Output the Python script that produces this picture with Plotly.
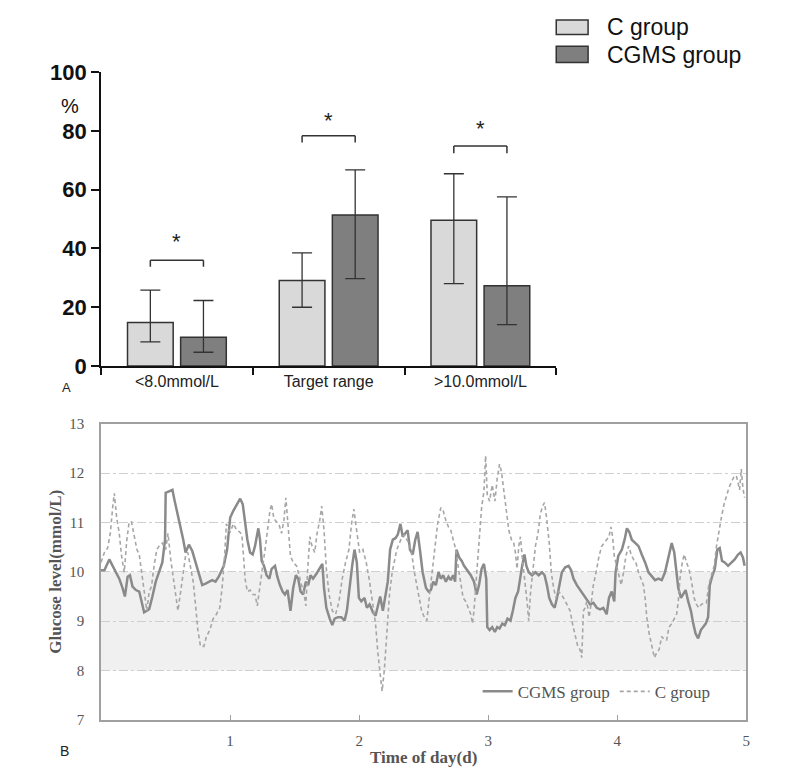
import plotly.graph_objects as go

# ---------------- Panel A data ----------------
categories = ["<8.0mmol/L", "Target range", ">10.0mmol/L"]
c_mean = [14.8, 29.1, 49.6]
c_low = [8.2, 20.0, 28.0]
c_high = [25.8, 38.5, 65.4]
cgms_mean = [9.8, 51.4, 27.3]
cgms_low = [4.7, 29.7, 14.1]
cgms_high = [22.3, 66.7, 57.5]
bracket_top = [36.0, 78.3, 74.8]
bracket_leg = [33.8, 76.0, 72.4]
star_y = [42.3, 83.4, 80.8]
yticks_a = [0, 20, 40, 60, 80, 100]

# ---------------- Panel B data ----------------
cgms_t = [0.000, 0.026, 0.064, 0.090, 0.116, 0.141, 0.167, 0.185, 0.206, 0.224, 0.244, 0.270, 0.296, 0.316,
          0.334, 0.355, 0.373, 0.398, 0.424, 0.450, 0.475, 0.496, 0.501, 0.527, 0.553, 0.571, 0.591, 0.617,
          0.637, 0.655, 0.681, 0.707, 0.732, 0.758, 0.784, 0.810, 0.835, 0.861, 0.887, 0.912, 0.930, 0.951,
          0.977, 1.001, 1.026, 1.052, 1.078, 1.098, 1.116, 1.134, 1.155, 1.175, 1.193, 1.219, 1.232, 1.245,
          1.263, 1.283, 1.304, 1.322, 1.348, 1.366, 1.386, 1.407, 1.425, 1.445, 1.468, 1.489, 1.510, 1.528,
          1.546, 1.566, 1.587, 1.605, 1.623, 1.643, 1.669, 1.695, 1.715, 1.728, 1.746, 1.772, 1.792, 1.810,
          1.836, 1.862, 1.887, 1.905, 1.926, 1.946, 1.964, 1.982, 1.998, 2.017, 2.042, 2.060, 2.081, 2.107,
          2.127, 2.145, 2.163, 2.184, 2.204, 2.222, 2.240, 2.261, 2.281, 2.299, 2.320, 2.338, 2.358, 2.376,
          2.394, 2.415, 2.435, 2.453, 2.471, 2.492, 2.518, 2.538, 2.556, 2.574, 2.595, 2.615, 2.633, 2.651,
          2.672, 2.692, 2.710, 2.728, 2.744, 2.754, 2.775, 2.795, 2.813, 2.839, 2.865, 2.890, 2.911, 2.929,
          2.949, 2.967, 2.985, 2.993, 3.011, 3.031, 3.052, 3.070, 3.088, 3.109, 3.129, 3.150, 3.173, 3.191,
          3.211, 3.232, 3.245, 3.263, 3.281, 3.296, 3.314, 3.340, 3.366, 3.391, 3.417, 3.437, 3.455, 3.473,
          3.494, 3.515, 3.533, 3.551, 3.571, 3.597, 3.623, 3.643, 3.661, 3.687, 3.712, 3.738, 3.764, 3.790,
          3.815, 3.841, 3.867, 3.892, 3.918, 3.936, 3.957, 3.977, 3.987, 4.008, 4.036, 4.057, 4.075, 4.093,
          4.113, 4.139, 4.165, 4.190, 4.216, 4.242, 4.267, 4.293, 4.319, 4.345, 4.370, 4.396, 4.422, 4.442,
          4.460, 4.473, 4.494, 4.512, 4.530, 4.550, 4.571, 4.589, 4.607, 4.627, 4.648, 4.666, 4.686, 4.704,
          4.717, 4.738, 4.756, 4.776, 4.794, 4.812, 4.833, 4.859, 4.884, 4.910, 4.936, 4.956, 4.974, 4.987]
cgms_v = [10.03, 10.03, 10.25, 10.12, 9.99, 9.86, 9.67, 9.50, 9.90, 9.93, 9.70, 9.63, 9.60, 9.40,
          9.18, 9.21, 9.24, 9.50, 9.80, 10.00, 10.19, 10.65, 11.60, 11.63, 11.66, 11.43, 11.20, 10.90,
          10.65, 10.39, 10.55, 10.42, 10.19, 9.93, 9.73, 9.76, 9.80, 9.83, 9.80, 9.90, 10.00, 10.12,
          10.45, 11.10, 11.24, 11.37, 11.48, 11.37, 11.04, 10.65, 10.39, 10.35, 10.52, 10.88, 10.65, 10.22,
          10.12, 9.93, 9.86, 10.06, 10.12, 9.90, 9.73, 9.60, 9.54, 9.63, 9.21, 9.67, 9.93, 9.86,
          9.60, 9.54, 9.80, 9.73, 9.93, 9.86, 9.96, 10.06, 10.16, 9.67, 9.27, 9.05, 8.92, 9.05,
          9.08, 9.08, 9.01, 9.21, 9.73, 10.12, 10.45, 10.19, 9.47, 9.40, 9.47, 9.27, 9.34, 9.18,
          9.11, 9.34, 9.50, 9.21, 9.54, 9.80, 10.45, 10.65, 10.68, 10.75, 10.97, 10.71, 10.78, 10.84,
          10.45, 10.35, 10.65, 10.81, 10.45, 9.99, 9.67, 9.60, 9.63, 9.80, 9.73, 9.99, 9.86, 9.93,
          9.80, 9.90, 9.83, 9.93, 9.80, 10.45, 10.29, 10.22, 10.12, 10.03, 9.93, 9.80, 9.54, 9.73,
          10.06, 10.16, 9.86, 8.88, 8.82, 8.88, 8.78, 8.88, 8.85, 8.95, 8.92, 9.05, 9.01, 9.21,
          9.47, 9.60, 9.86, 10.12, 10.35, 10.12, 9.99, 9.93, 9.99, 9.93, 9.99, 9.93, 9.73, 9.47,
          9.34, 9.27, 9.47, 9.73, 9.99, 10.09, 10.12, 10.03, 9.86, 9.73, 9.63, 9.54, 9.44, 9.34,
          9.37, 9.27, 9.24, 9.27, 9.14, 9.47, 9.60, 9.40, 9.99, 10.32, 10.45, 10.65, 10.88, 10.81,
          10.65, 10.58, 10.52, 10.35, 10.19, 9.99, 9.90, 9.83, 9.86, 9.83, 9.99, 10.32, 10.58, 10.39,
          9.99, 9.67, 9.47, 9.54, 9.63, 9.40, 9.21, 8.95, 8.75, 8.65, 8.82, 8.88, 8.95, 9.08,
          9.73, 9.93, 10.06, 10.45, 10.48, 10.22, 10.19, 10.12, 10.19, 10.25, 10.35, 10.39, 10.29, 10.12]

c_t = [0.000, 0.026, 0.051, 0.072, 0.090, 0.103, 0.121, 0.141, 0.159, 0.180, 0.200, 0.218, 0.236, 0.257,
       0.278, 0.296, 0.314, 0.334, 0.355, 0.373, 0.391, 0.411, 0.432, 0.450, 0.475, 0.501, 0.519, 0.540,
       0.560, 0.578, 0.596, 0.617, 0.637, 0.655, 0.673, 0.694, 0.714, 0.732, 0.750, 0.771, 0.797, 0.817,
       0.843, 0.869, 0.894, 0.920, 0.938, 0.956, 0.971, 0.990, 1.001, 1.026, 1.052, 1.073, 1.091, 1.104,
       1.116, 1.134, 1.155, 1.175, 1.193, 1.211, 1.232, 1.250, 1.271, 1.289, 1.309, 1.322, 1.340, 1.361,
       1.381, 1.399, 1.417, 1.432, 1.450, 1.468, 1.489, 1.515, 1.535, 1.553, 1.571, 1.587, 1.600, 1.618,
       1.635, 1.656, 1.674, 1.695, 1.710, 1.728, 1.746, 1.767, 1.792, 1.818, 1.844, 1.869, 1.895, 1.921,
       1.941, 1.959, 1.977, 2.004, 2.029, 2.055, 2.081, 2.107, 2.127, 2.145, 2.163, 2.178, 2.196, 2.214,
       2.235, 2.256, 2.274, 2.292, 2.312, 2.333, 2.351, 2.369, 2.389, 2.410, 2.428, 2.448, 2.466, 2.484,
       2.505, 2.525, 2.543, 2.564, 2.582, 2.608, 2.633, 2.651, 2.672, 2.692, 2.710, 2.728, 2.749, 2.770,
       2.788, 2.806, 2.826, 2.847, 2.865, 2.878, 2.890, 2.908, 2.929, 2.949, 2.967, 2.980, 2.993, 3.011,
       3.031, 3.052, 3.070, 3.088, 3.103, 3.121, 3.139, 3.160, 3.180, 3.198, 3.211, 3.224, 3.237, 3.250,
       3.263, 3.283, 3.301, 3.314, 3.327, 3.345, 3.366, 3.386, 3.404, 3.422, 3.437, 3.455, 3.473, 3.489,
       3.507, 3.525, 3.545, 3.566, 3.584, 3.610, 3.635, 3.653, 3.674, 3.694, 3.712, 3.725, 3.738, 3.751,
       3.764, 3.782, 3.797, 3.815, 3.836, 3.859, 3.880, 3.900, 3.918, 3.936, 3.951, 3.964, 3.977, 3.995,
       4.016, 4.031, 4.049, 4.067, 4.088, 4.108, 4.126, 4.144, 4.165, 4.185, 4.203, 4.216, 4.229, 4.247,
       4.267, 4.288, 4.306, 4.324, 4.345, 4.365, 4.383, 4.401, 4.422, 4.442, 4.460, 4.473, 4.486, 4.504,
       4.519, 4.537, 4.555, 4.576, 4.596, 4.614, 4.632, 4.653, 4.673, 4.691, 4.709, 4.730, 4.751, 4.769,
       4.787, 4.807, 4.828, 4.846, 4.864, 4.884, 4.905, 4.923, 4.936, 4.948, 4.961, 4.974, 4.987]
c_v = [10.19, 10.39, 10.48, 10.78, 11.30, 11.59, 11.10, 10.78, 10.32, 9.99, 10.65, 11.01, 11.01, 10.71,
       10.45, 10.35, 9.99, 9.54, 9.21, 9.60, 9.70, 10.12, 10.45, 10.52, 10.58, 10.45, 10.78, 10.25,
       9.86, 9.47, 9.21, 9.60, 9.99, 10.32, 10.39, 10.12, 9.80, 9.34, 8.82, 8.49, 8.49, 8.69,
       8.82, 9.05, 9.14, 9.27, 9.67, 10.25, 10.97, 10.84, 10.81, 10.97, 10.84, 10.81, 10.75, 10.32,
       9.86, 9.60, 9.63, 9.54, 9.54, 9.31, 9.67, 10.06, 10.45, 10.78, 11.24, 11.37, 11.07, 11.01,
       10.94, 10.78, 11.04, 11.50, 10.97, 10.32, 10.19, 10.12, 9.93, 9.73, 9.60, 9.31, 9.99, 10.71,
       10.52, 10.39, 10.78, 11.04, 11.33, 10.84, 10.06, 9.54, 9.21, 9.14, 9.40, 9.86, 10.19, 10.45,
       10.97, 11.27, 10.91, 10.39, 10.45, 10.19, 9.80, 9.34, 8.95, 8.36, 7.90, 7.58, 8.03, 8.82,
       9.54, 9.99, 10.19, 10.45, 10.58, 10.71, 10.75, 10.65, 10.58, 10.32, 9.99, 9.73, 9.47, 9.21,
       9.08, 9.01, 9.47, 9.93, 10.45, 10.97, 11.30, 11.24, 11.04, 10.91, 10.84, 10.65, 10.45, 10.06,
       9.80, 9.47, 9.40, 9.27, 9.14, 8.95, 9.21, 9.86, 10.65, 11.30, 11.63, 12.35, 11.56, 11.43,
       11.76, 11.43, 11.89, 12.18, 12.02, 11.63, 11.30, 10.84, 10.65, 10.58, 10.39, 10.06, 10.52, 10.71,
       10.32, 9.86, 9.40, 9.01, 9.54, 9.99, 10.52, 10.78, 11.17, 11.33, 11.40, 11.04, 10.58, 9.99,
       9.67, 9.47, 9.60, 9.54, 9.47, 9.34, 9.21, 8.95, 8.69, 8.49, 8.42, 8.26, 9.21, 9.27,
       9.40, 9.08, 9.34, 9.73, 9.99, 10.32, 10.52, 10.58, 10.65, 10.71, 10.91, 10.71, 10.32, 10.12,
       9.93, 9.73, 9.99, 10.32, 10.52, 10.35, 10.25, 10.19, 9.99, 9.86, 9.73, 9.47, 9.08, 8.75,
       8.49, 8.26, 8.36, 8.42, 8.69, 8.62, 8.62, 8.88, 8.95, 9.05, 9.14, 9.40, 9.86, 10.19,
       10.35, 10.19, 10.06, 9.80, 9.47, 9.34, 9.27, 9.34, 9.37, 9.37, 9.73, 9.93, 10.12, 10.52,
       10.84, 11.10, 11.37, 11.56, 11.69, 11.82, 11.92, 11.95, 11.76, 11.66, 12.08, 11.69, 11.50]

target_band = [8, 10]
xticks_b = [1, 2, 3, 4, 5]
yticks_b = [7, 8, 9, 10, 11, 12, 13]

SANS = "Liberation Sans, Arial, sans-serif"
SERIF = "Liberation Serif, Times New Roman, serif"

W, H = 800, 782
OFF = 8  # page body margin shifts the figure by this many pixels


def px(xp):
    return (xp - OFF) / W


def py(yp):
    return 1 - (yp - OFF) / H


BARGAP = 0.30
GROUPGAP = 0.14
slot = (1 - BARGAP) / 2
offset = slot / 2

fig = go.Figure()

fig.add_trace(go.Bar(
    x=categories, y=c_mean, name="C group", showlegend=False,
    marker=dict(color="#d9d9d9", line=dict(color="#333333", width=1.5)),
    error_y=dict(type="data", symmetric=False,
                 array=[h - m for h, m in zip(c_high, c_mean)],
                 arrayminus=[m - l for m, l in zip(c_mean, c_low)],
                 color="#333333", thickness=1.3, width=10),
    xaxis="x", yaxis="y"))
fig.add_trace(go.Bar(
    x=categories, y=cgms_mean, name="CGMS group", showlegend=False,
    marker=dict(color="#7f7f7f", line=dict(color="#333333", width=1.5)),
    error_y=dict(type="data", symmetric=False,
                 array=[h - m for h, m in zip(cgms_high, cgms_mean)],
                 arrayminus=[m - l for m, l in zip(cgms_mean, cgms_low)],
                 color="#333333", thickness=1.3, width=10),
    xaxis="x", yaxis="y"))

fig.add_trace(go.Scatter(
    x=cgms_t, y=cgms_v, mode="lines", name="CGMS group",
    line=dict(color="#8a8a8a", width=2.5), xaxis="x2", yaxis="y2"))
fig.add_trace(go.Scatter(
    x=c_t, y=c_v, mode="lines", name="C group",
    line=dict(color="#a6a6a6", width=1.6, dash="4px,3px"), xaxis="x2", yaxis="y2"))

shapes = []
annotations = []
# target range band
shapes.append(dict(type="rect", xref="x2 domain", yref="y2", x0=0, x1=1,
                   y0=target_band[0], y1=target_band[1],
                   fillcolor="#f0f0f0", line=dict(width=0), layer="below"))
# significance brackets
for i in range(len(categories)):
    xl, xr = i - offset, i + offset
    for (a0, b0, a1, b1) in [(xl, bracket_leg[i], xl, bracket_top[i]),
                             (xl, bracket_top[i], xr, bracket_top[i]),
                             (xr, bracket_top[i], xr, bracket_leg[i])]:
        shapes.append(dict(type="line", xref="x", yref="y", x0=a0, y0=b0, x1=a1, y1=b1,
                           line=dict(color="#333333", width=1.5)))
    annotations.append(dict(x=i, y=star_y[i], xref="x", yref="y", text="*", showarrow=False,
                            font=dict(family=SANS, size=22, color="#222")))

# top legend (swatches + labels)
shapes.append(dict(type="rect", xref="paper", yref="paper", x0=px(559), x1=px(591), y0=py(23), y1=1.0,
                   fillcolor="#d9d9d9", line=dict(color="#333333", width=1.5)))
shapes.append(dict(type="rect", xref="paper", yref="paper", x0=px(559), x1=px(591), y0=py(52), y1=py(35),
                   fillcolor="#7f7f7f", line=dict(color="#333333", width=1.5)))
annotations.append(dict(x=px(608), y=py(15), xref="paper", yref="paper", text="C group", showarrow=False,
                        xanchor="left", yanchor="middle", font=dict(family=SANS, size=23, color="#111")))
annotations.append(dict(x=px(608), y=py(44), xref="paper", yref="paper", text="CGMS group", showarrow=False,
                        xanchor="left", yanchor="middle", font=dict(family=SANS, size=23, color="#111")))
# % label and panel letters
annotations.append(dict(x=px(70), y=py(97), xref="paper", yref="paper", text="%", showarrow=False,
                        xanchor="center", yanchor="middle", font=dict(family=SANS, size=20, color="#111")))
annotations.append(dict(x=px(60), y=py(388), xref="paper", yref="paper", text="A", showarrow=False,
                        xanchor="left", yanchor="middle", font=dict(family=SANS, size=13, color="#222")))
annotations.append(dict(x=px(58), y=py(763), xref="paper", yref="paper", text="B", showarrow=False,
                        xanchor="left", yanchor="middle", font=dict(family=SANS, size=14, color="#222")))

fig.update_layout(
    width=W, height=H,
    margin=dict(l=0, r=0, t=0, b=0),
    paper_bgcolor="white", plot_bgcolor="rgba(0,0,0,0)",
    barmode="group", bargap=BARGAP, bargroupgap=GROUPGAP,
    shapes=shapes, annotations=annotations,
    xaxis=dict(domain=[px(101.5), px(559)], anchor="y", type="category", range=[-0.5, 2.5],
               showline=True, linecolor="#111", linewidth=2, ticks="outside", tickson="boundaries",
               ticklen=7, tickwidth=1.5, tickcolor="#111", showgrid=False,
               tickfont=dict(family=SANS, size=16, color="#222")),
    yaxis=dict(domain=[py(365.5), py(61.7)], anchor="x", range=[0, 100], tickvals=yticks_a,
               showline=True, linecolor="#111", linewidth=2, ticks="outside", ticklen=8, tickwidth=2,
               tickcolor="#111", showgrid=False, zeroline=False,
               tickfont=dict(family=SANS, size=22, color="#111", weight="bold")),
    xaxis2=dict(domain=[px(101.5), px(750)], anchor="y2", range=[0, 5], tickvals=xticks_b,
                showline=True, mirror=True, linecolor="#a0a0a0", linewidth=1.5,
                ticks="inside", ticklen=5, tickcolor="#a0a0a0", showgrid=False, zeroline=False,
                ticklabelstandoff=6,
                tickfont=dict(family=SERIF, size=15, color="#555"),
                title=dict(text="<b>Time of day(d)</b>", standoff=3,
                           font=dict(family=SERIF, size=17, color="#555"))),
    yaxis2=dict(domain=[py(731), py(425)], anchor="x2", range=[7, 13], tickvals=yticks_b,
                showline=True, mirror=True, linecolor="#a0a0a0", linewidth=1.5,
                ticks="", ticklabelstandoff=12,
                showgrid=True, gridcolor="#cfcfcf", griddash="dashdot", gridwidth=1,
                zeroline=False, tickfont=dict(family=SERIF, size=15, color="#555"),
                title=dict(text="<b>Glucose level(mmol/L)</b>", standoff=3,
                           font=dict(family=SERIF, size=17, color="#555"))),
    legend=dict(orientation="h", x=px(480), y=py(702), xanchor="left", yanchor="middle",
                bgcolor="rgba(0,0,0,0)", font=dict(family=SERIF, size=17, color="#555"),
                itemwidth=30, traceorder="normal"),
)

fig.write_html("out.html")
